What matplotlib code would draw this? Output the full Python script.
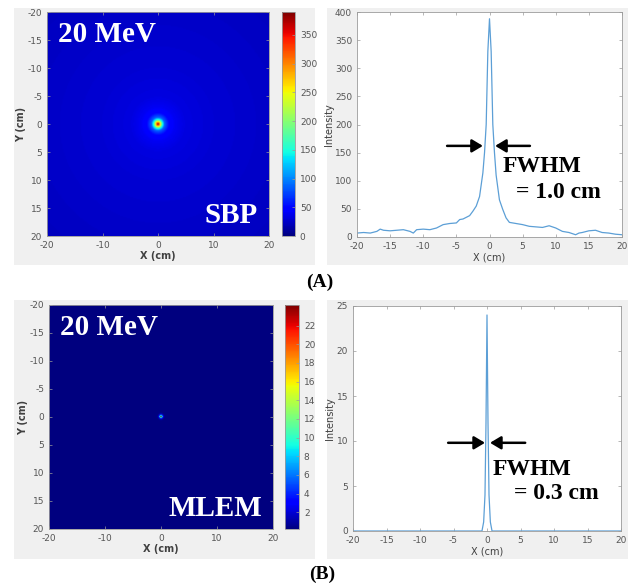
import numpy as np
import matplotlib
matplotlib.use("Agg")
import matplotlib.pyplot as plt
from matplotlib.patches import Rectangle

plt.rcParams["axes.unicode_minus"] = False

# ---------------- data ----------------
# (A) SBP line profile through the source
sbp_x = [-20, -19, -18, -17, -16.5, -16, -15, -14, -13, -12, -11.5, -11, -10, -9, -8, -7,
         -6, -5, -4.5, -4, -3, -2.5, -2, -1.5, -1, -0.75, -0.5, -0.25, 0, 0.25, 0.5, 0.75,
         1, 1.5, 2, 2.5, 3, 4, 5, 6, 7, 8, 9, 10, 11, 12, 13, 13.5, 14, 15, 16, 17,
         18, 19, 20]
sbp_y = [7, 8, 7, 10, 14, 12, 11, 12, 13, 10, 7, 13, 14, 13, 16, 22,
         24, 25, 31, 32, 38, 46, 55, 72, 114, 150, 200, 330, 388, 330, 200, 150,
         110, 66, 49, 34, 26, 24, 22, 19, 18, 17, 20, 16, 10, 8, 4, 7, 8, 11, 12, 8,
         7, 5, 4]
# (A) SBP image: radial intensity
sbp_img_r = [0, 0.3, 0.5, 0.8, 1.2, 2, 3, 5, 10, 20, 29]
sbp_img_v = [390, 300, 230, 150, 85, 50, 40, 33, 29, 25, 22]

# (B) MLEM line profile through the source
mlem_x = [-20, -0.75, -0.5, -0.3, -0.15, 0, 0.15, 0.3, 0.5, 0.75, 20]
mlem_y = [0, 0, 1, 4, 12, 24, 12, 4, 1, 0, 0]
# (B) MLEM image: radial intensity
mlem_img_r = [0, 0.15, 0.3, 0.5, 0.75, 29]
mlem_img_v = [24, 12, 4, 1, 0, 0]

sbp_cbar_ticks = [0, 50, 100, 150, 200, 250, 300, 350]
mlem_cbar_ticks = [2, 4, 6, 8, 10, 12, 14, 16, 18, 20, 22]
img_ticks_x = [-20, -10, 0, 10, 20]
img_ticks_y = [-20, -15, -10, -5, 0, 5, 10, 15, 20]
prof_ticks_x = [-20, -15, -10, -5, 0, 5, 10, 15, 20]
sbp_prof_ticks_y = [0, 50, 100, 150, 200, 250, 300, 350, 400]
mlem_prof_ticks_y = [0, 5, 10, 15, 20, 25]

# ---------------- figure ----------------
W, H = 633, 587
fig = plt.figure(figsize=(W / 100, H / 100), dpi=100)
fig.patch.set_facecolor("white")

def fr(x0, y0, x1, y1):
    """pixel box -> figure fraction [l, b, w, h]"""
    return [x0 / W, 1 - y1 / H, (x1 - x0) / W, (y1 - y0) / H]

GRAY_BG = "#f0f0f0"
TICK_C = "#555555"
EDGE_C = "#9a9a9a"
LINE_C = "#5c9fd6"

for (x0, y0, x1, y1) in [(14, 8, 315, 265), (327, 8, 628, 265),
                         (14, 300, 315, 559), (327, 300, 628, 559)]:
    l, b, w, h = fr(x0, y0, x1, y1)
    fig.patches.append(Rectangle((l, b), w, h, transform=fig.transFigure,
                                 facecolor=GRAY_BG, edgecolor="none", zorder=-5))

serif = ["Liberation Serif", "DejaVu Serif"]

def style_axes(ax):
    for s in ax.spines.values():
        s.set_color(EDGE_C)
        s.set_linewidth(0.6)
    ax.tick_params(direction="in", length=2.5, width=0.5, colors=EDGE_C,
                   labelcolor=TICK_C, labelsize=6.5, top=True, right=True)

def make_image(rr, vv):
    """radially symmetric image from a radial intensity list"""
    g = np.linspace(-20, 20, 201)
    X, Y = np.meshgrid(g, g)
    return np.interp(np.hypot(X, Y), rr, vv)

def image_panel(box, cbox, rr, vv, vmin, vmax, cticks, label):
    ax = fig.add_axes(fr(*box))
    img = make_image(rr, vv)
    im = ax.imshow(img, cmap="jet", vmin=vmin, vmax=vmax,
                   extent=(-20, 20, 20, -20), aspect="auto",
                   interpolation="bilinear")
    ax.set_xlim(-20, 20)
    ax.set_ylim(20, -20)
    ax.set_xticks(img_ticks_x)
    ax.set_yticks(img_ticks_y)
    style_axes(ax)
    ax.set_xlabel("X (cm)", fontsize=7, fontweight="bold", color="#404040", labelpad=1)
    ax.set_ylabel("Y (cm)", fontsize=7, fontweight="bold", color="#404040", labelpad=1)
    ax.text(0.05, 0.96, "20 MeV", transform=ax.transAxes, ha="left", va="top",
            color="white", fontsize=21, fontweight="bold", family=serif)
    ax.text(0.95, 0.03, label, transform=ax.transAxes, ha="right", va="bottom",
            color="white", fontsize=21, fontweight="bold", family=serif)
    cax = fig.add_axes(fr(*cbox))
    cb = fig.colorbar(im, cax=cax, ticks=cticks)
    cb.outline.set_edgecolor(EDGE_C)
    cb.outline.set_linewidth(0.6)
    cax.tick_params(direction="in", length=2.5, width=0.5, colors=EDGE_C,
                    labelcolor=TICK_C, labelsize=6.5)
    return ax

def profile_panel(box, px, py, ymax, yticks, arrow_y, xl, xr, fw_pos, eq_pos, txt):
    ax = fig.add_axes(fr(*box))
    ax.set_facecolor("white")
    ax.plot(px, py, color=LINE_C, lw=0.9)
    ax.set_xlim(-20, 20)
    ax.set_ylim(0, ymax)
    ax.set_xticks(prof_ticks_x)
    ax.set_yticks(yticks)
    style_axes(ax)
    ax.set_xlabel("X (cm)", fontsize=7, color="#404040", labelpad=1)
    ax.set_ylabel("Intensity", fontsize=7, color="#404040", labelpad=1)
    ap = dict(arrowstyle="-|>,head_length=0.5,head_width=0.3", color="black",
              lw=1.8, mutation_scale=13, shrinkA=0, shrinkB=0)
    ax.annotate("", xy=(xl[1], arrow_y), xytext=(xl[0], arrow_y), arrowprops=ap)
    ax.annotate("", xy=(xr[1], arrow_y), xytext=(xr[0], arrow_y), arrowprops=ap)
    ax.text(fw_pos[0], fw_pos[1], "FWHM", transform=ax.transAxes, ha="left",
            va="center", fontsize=17, fontweight="bold", family=serif)
    ax.text(eq_pos[0], eq_pos[1], txt, transform=ax.transAxes,
            ha="left", va="center", fontsize=17, fontweight="bold", family=serif)
    return ax

# (A)
image_panel((47, 12, 269, 236), (282, 12, 295, 236), sbp_img_r, sbp_img_v, 0, 390,
            sbp_cbar_ticks, "SBP")
profile_panel((357, 12, 622, 237), sbp_x, sbp_y, 400, sbp_prof_ticks_y, 162,
              (-6.4, -1.0), (6.1, 0.85), (0.55, 0.315), (0.60, 0.20), "= 1.0 cm")

# (B)
image_panel((49, 305, 273, 529), (285, 305, 299, 529), mlem_img_r, mlem_img_v, 0.2, 24.2,
            mlem_cbar_ticks, "MLEM")
profile_panel((353, 306, 621, 531), mlem_x, mlem_y, 25, mlem_prof_ticks_y, 9.8,
              (-5.8, -0.3), (5.7, 0.45), (0.52, 0.275), (0.60, 0.165), "= 0.3 cm")

fig.text(320 / W, 1 - 282 / H, "(A)", ha="center", va="center", fontsize=14,
         fontweight="bold", family=serif)
fig.text(322 / W, 1 - 574 / H, "(B)", ha="center", va="center", fontsize=14,
         fontweight="bold", family=serif)

fig.savefig("out.png", dpi=100, facecolor="white")
